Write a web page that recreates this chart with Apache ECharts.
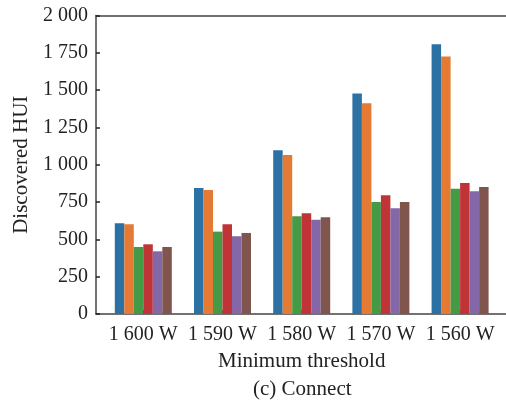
<!DOCTYPE html>
<html>
<head>
<meta charset="utf-8">
<script src="https://cdn.jsdelivr.net/npm/echarts@6/dist/echarts.min.js"></script>
<style>html,body{margin:0;padding:0;background:#fff}#c{width:506px;height:400px}</style>
</head>
<body>
<div id="c"></div>
<script>
const categories = ['1 600 W', '1 590 W', '1 580 W', '1 570 W', '1 560 W'];
const s1 = [608, 845, 1097, 1477, 1808];
const s2 = [601, 831, 1066, 1412, 1725];
const s3 = [449, 552, 655, 751, 840];
const s4 = [467, 601, 675, 796, 878];
const s5 = [420, 521, 632, 708, 823];
const s6 = [449, 543, 648, 751, 851];
const seriesValues = [s1, s2, s3, s4, s5, s6];
const colors = ['#2c71a3', '#e57a35', '#449a45', '#c03337', '#8367a6', '#80554d'];
const yTicks = [0, 250, 500, 750, 1000, 1250, 1500, 1750, 2000];

const font = 'Liberation Serif';
const chart = echarts.init(document.getElementById('c'));
const fmt = v => { const s = String(v); return s.length > 3 ? s.slice(0, s.length - 3) + ' ' + s.slice(-3) : s; };

chart.setOption({
  animation: false,
  title: {
    text: '(c) Connect', left: 248, top: 374,
    textStyle: { fontFamily: font, fontSize: 21, fontWeight: 'normal', color: '#222' }
  },
  grid: [
    { left: 103.7, right: 6.3, top: 15.5, bottom: 86 },
    { left: 96, right: 0, top: 15.5, bottom: 86 }
  ],
  xAxis: [
    {
      type: 'category', data: categories, gridIndex: 0,
      axisLine: { show: false },
      axisTick: { show: true, inside: true, length: 4, alignWithLabel: true, lineStyle: { color: '#222', width: 1.5 } },
      axisLabel: { fontFamily: font, fontSize: 20, color: '#222', margin: 11, interval: 0 },
      name: 'Minimum threshold', nameLocation: 'middle', nameGap: 37,
      nameTextStyle: { fontFamily: font, fontSize: 21, color: '#222' }
    },
    {
      type: 'value', gridIndex: 1, position: 'bottom', min: 0, max: 1,
      axisLine: { show: true, lineStyle: { color: '#444', width: 1.5 } },
      axisTick: { show: false }, axisLabel: { show: false }, splitLine: { show: false }
    },
    {
      type: 'value', gridIndex: 1, position: 'top', min: 0, max: 1,
      axisLine: { show: true, lineStyle: { color: '#444', width: 1.5 } },
      axisTick: { show: false }, axisLabel: { show: false }, splitLine: { show: false }
    }
  ],
  yAxis: [
    {
      type: 'value', gridIndex: 0, min: 0, max: 2000, interval: 250, offset: 7.7,
      axisLine: { show: true, lineStyle: { color: '#444', width: 1.5 } },
      axisTick: { show: true, inside: true, length: 4, lineStyle: { color: '#222', width: 1.5 } },
      axisLabel: { fontFamily: font, fontSize: 20, color: '#222', margin: 8, formatter: v => yTicks.includes(v) ? fmt(v) : '' },
      splitLine: { show: false },
      name: 'Discovered HUI', nameLocation: 'middle', nameGap: 58.5,
      nameTextStyle: { fontFamily: font, fontSize: 21, color: '#222' }
    },
    {
      type: 'value', gridIndex: 1, min: 0, max: 1, show: false
    }
  ],
  series: seriesValues.map((vals, i) => ({
    type: 'bar', data: vals, xAxisIndex: 0, yAxisIndex: 0,
    barWidth: 9.5, barGap: '0%',
    itemStyle: { color: colors[i] }
  }))
});
</script>
</body>
</html>
